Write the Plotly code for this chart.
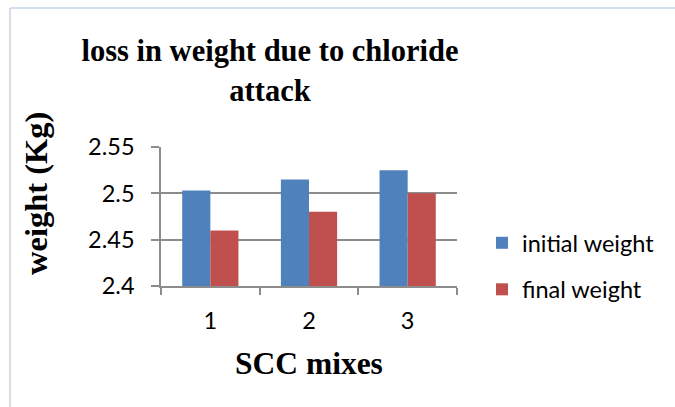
import plotly.graph_objects as go

# Chloride attack test results per SCC mix
mixes = ["1", "2", "3"]
initial_weight = [2.503, 2.515, 2.525]
final_weight = [2.46, 2.48, 2.50]
y_ticks = [2.4, 2.45, 2.5, 2.55]
y_tick_text = ["2.4", "2.45", "2.5", "2.55"]

W, H = 675, 407
L, R, T, B = 161, 457, 147, 286  # plot area edges in px

label_font = dict(family="Lato, Carlito, Calibri, sans-serif", size=23.5, color="#000000")
serif_bold = "Liberation Serif, Times New Roman, serif"
grid_col = "#8c8c8c"

fig = go.Figure()
fig.add_trace(go.Bar(x=mixes, y=initial_weight, name="initial weight",
                     marker=dict(color="#4f81bd", line=dict(width=0)),
                     legendgroup="a"))
fig.add_trace(go.Bar(x=mixes, y=final_weight, name="final weight",
                     marker=dict(color="#c0504d", line=dict(width=0)),
                     legendgroup="b"))

fig.update_layout(
    width=W, height=H,
    margin=dict(l=L, r=W - R, t=T, b=H - B, pad=0, autoexpand=False),
    paper_bgcolor="white", plot_bgcolor="white",
    barmode="group", bargap=0.43, bargroupgap=0,
    showlegend=True,
    legend=dict(x=(482 - L) / (R - L), xref="paper", xanchor="left",
                y=(B - 266.5) / (B - T), yanchor="middle", yref="paper",
                font=label_font, tracegroupgap=13, traceorder="grouped",
                bgcolor="rgba(0,0,0,0)", itemwidth=30),
    title=dict(text="<b>loss in weight due to chloride<br>attack</b>",
               x=270 / W, xanchor="center", xref="container",
               y=1 - 61 / H, yanchor="top", yref="container",
               font=dict(family=serif_bold, size=30.5, color="#000000")),
    font=label_font,
)

fig.update_yaxes(range=[2.4, 2.55], tickvals=y_ticks, ticktext=y_tick_text,
                 showgrid=True, gridcolor=grid_col, gridwidth=1.5,
                 showline=True, linecolor=grid_col, linewidth=1.5,
                 ticks="outside", ticklen=8, tickcolor=grid_col, tickwidth=1.5,
                 ticklabelstandoff=12, zeroline=False, tickfont=label_font,
                 fixedrange=True, automargin=False)
fig.update_xaxes(showline=True, linecolor=grid_col, linewidth=1.5,
                 ticks="outside", ticklen=7, tickcolor=grid_col, tickwidth=1.5,
                 tickson="boundaries", showgrid=False, ticklabelstandoff=13,
                 tickfont=label_font, fixedrange=True, automargin=False)

# axis titles
fig.add_annotation(text="<b>weight (Kg)</b>", textangle=-90,
                   xref="paper", yref="paper", showarrow=False,
                   x=(36 - L) / (R - L), y=(B - 194) / (B - T),
                   xanchor="center", yanchor="middle",
                   font=dict(family=serif_bold, size=32.5, color="#000000"))
fig.add_annotation(text="<b>SCC mixes</b>",
                   xref="paper", yref="paper", showarrow=False,
                   x=(309 - L) / (R - L), y=(B - 363) / (B - T),
                   xanchor="center", yanchor="middle",
                   font=dict(family=serif_bold, size=31.5, color="#000000"))

# chart frame edges
fig.add_shape(type="line", xref="paper", yref="paper",
              x0=(10 - L) / (R - L), x1=(W - L) / (R - L),
              y0=(B - 8) / (B - T), y1=(B - 8) / (B - T),
              line=dict(color="#c5d3ee", width=1.5))
fig.add_shape(type="line", xref="paper", yref="paper",
              x0=(10 - L) / (R - L), x1=(10 - L) / (R - L),
              y0=(B - 8) / (B - T), y1=(B - H) / (B - T),
              line=dict(color="#cdd2dc", width=1.5))

fig.write_html("out.html")
